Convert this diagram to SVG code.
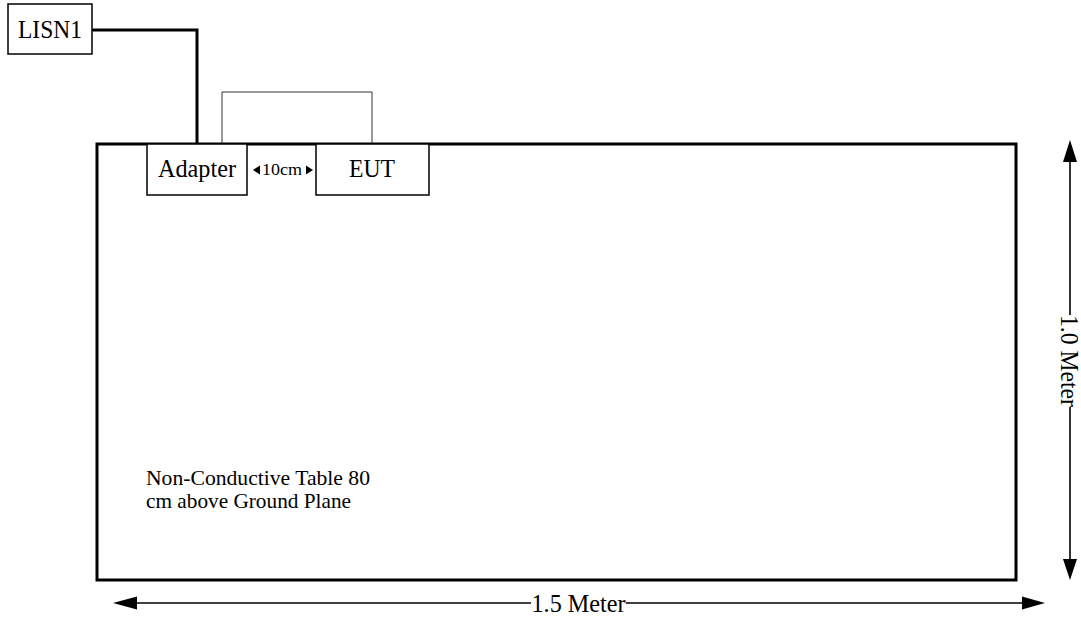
<svg xmlns="http://www.w3.org/2000/svg" width="1081" height="619" viewBox="0 0 1081 619">
<style>
.box{fill:#fff;stroke:#000;stroke-width:1.5}
.t{font-family:"Liberation Serif","Times New Roman",serif;fill:#000}
.dim{stroke:#000;stroke-width:1.6;fill:none}
.head{fill:#000}
</style>
<rect width="1081" height="619" fill="#fff"/>
<g id="table">
<rect x="97" y="144" width="919" height="436" fill="none" stroke="#000" stroke-width="3"/>
<text class="t" x="146" y="485" font-size="21" textLength="224" lengthAdjust="spacingAndGlyphs">Non-Conductive Table 80</text>
<text class="t" x="146" y="508" font-size="21" textLength="205" lengthAdjust="spacingAndGlyphs">cm above Ground Plane</text>
</g>
<g id="connectors">
<polyline points="92,30 197,30 197,144" fill="none" stroke="#000" stroke-width="3"/>
<polyline points="222,144 222,92 372,92 372,144" fill="none" stroke="#333" stroke-width="1"/>
</g>
<g id="lisn1">
<rect class="box" x="8" y="4" width="84" height="50"/>
<text class="t" x="50" y="38" font-size="25" text-anchor="middle" textLength="64" lengthAdjust="spacingAndGlyphs">LISN1</text>
</g>
<g id="adapter">
<rect class="box" x="147" y="144" width="100" height="51"/>
<text class="t" x="197" y="177" font-size="25" text-anchor="middle" textLength="78" lengthAdjust="spacingAndGlyphs">Adapter</text>
</g>
<g id="eut">
<rect class="box" x="316" y="144" width="113" height="51"/>
<text class="t" x="372" y="177" font-size="25" text-anchor="middle" textLength="46" lengthAdjust="spacingAndGlyphs">EUT</text>
</g>
<g id="gap">
<polygon class="head" points="253,170 260,165.5 260,174.5"/>
<text class="t" x="282" y="175" font-size="16" text-anchor="middle" textLength="40" lengthAdjust="spacingAndGlyphs">10cm</text>
<polygon class="head" points="313,170 306,165.5 306,174.5"/>
</g>
<g id="dim-width">
<line class="dim" x1="136" y1="603" x2="531" y2="603"/>
<line class="dim" x1="626" y1="603" x2="1023" y2="603"/>
<polygon class="head" points="113,603 137,596.5 137,609.5"/>
<polygon class="head" points="1045,603 1022,596.5 1022,609.5"/>
<text class="t" x="578.5" y="612" font-size="26" text-anchor="middle" textLength="94" lengthAdjust="spacingAndGlyphs">1.5 Meter</text>
</g>
<g id="dim-height">
<line class="dim" x1="1070" y1="161" x2="1070" y2="315"/>
<line class="dim" x1="1070" y1="407" x2="1070" y2="560"/>
<polygon class="head" points="1070,140 1063,162 1077,162"/>
<polygon class="head" points="1070,580 1063,559 1077,559"/>
<text class="t" transform="translate(1061,361) rotate(90)" x="0" y="0" font-size="25" text-anchor="middle" textLength="92" lengthAdjust="spacingAndGlyphs">1.0 Meter</text>
</g>
</svg>
